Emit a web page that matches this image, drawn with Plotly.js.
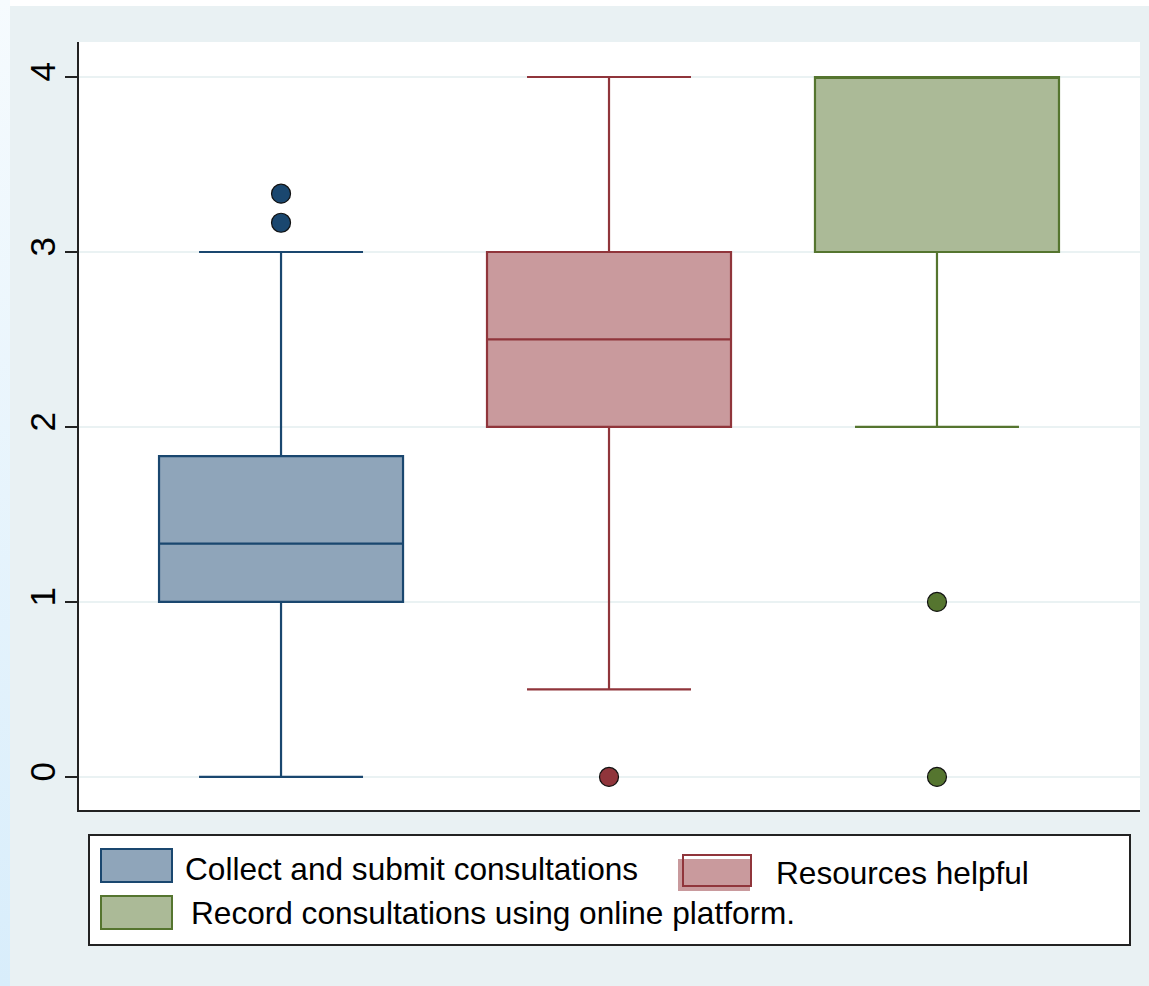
<!DOCTYPE html>
<html>
<head>
<meta charset="utf-8">
<script src="https://cdn.plot.ly/plotly-3.0.1.min.js"></script>
<style>
  html, body { margin: 0; padding: 0; width: 1149px; height: 986px; overflow: hidden; background: #ffffff; }
  #strip { position: absolute; left: 0; top: 0; width: 10px; height: 986px;
           background: linear-gradient(to bottom, #f6fbfe, #d8edfb); }
  #chart { position: absolute; left: 10px; top: 6px; width: 1139px; height: 980px; }
</style>
</head>
<body>
<div id="strip"></div>
<div id="chart"></div>
<script>
// ---- data ----
const seriesNames = ["Collect and submit consultations", "Resources helpful", "Record consultations using online platform."];
const positions   = [0, 1, 2];
const lowerFence  = [0, 0.5, 2];
const q1Values    = [1, 2, 3];
const medians     = [1.333, 2.5, 4];
const q3Values    = [1.833, 3, 4];
const upperFence  = [3, 4, 4];
const outlierX    = [[0, 0], [1], [2, 2]];
const outlierY    = [[3.333, 3.167], [0], [1, 0]];
const yTickVals   = [0, 1, 2, 3, 4];
const yTickText   = ["0", "1", "2", "3", "4"];

const fillColors  = ["#8FA5BA", "#C99A9D", "#ABBA97"];
const lineColors  = ["#1A476F", "#90353B", "#55752F"];

const traces = [];
for (let i = 0; i < seriesNames.length; i++) {
  traces.push({
    type: "box",
    name: seriesNames[i],
    x: [positions[i]],
    q1: [q1Values[i]],
    median: [medians[i]],
    q3: [q3Values[i]],
    lowerfence: [lowerFence[i]],
    upperfence: [upperFence[i]],
    width: 0.744,
    whiskerwidth: 0.672,
    boxpoints: false,
    fillcolor: fillColors[i],
    line: { color: lineColors[i], width: 2.2 },
    showlegend: false,
    hoverinfo: "skip"
  });
  traces.push({
    type: "scatter",
    mode: "markers",
    x: outlierX[i],
    y: outlierY[i],
    marker: { size: 19, color: lineColors[i], line: { color: "#111111", width: 1.2 } },
    showlegend: false,
    hoverinfo: "skip"
  });
}

// ---- manual legend (page pixel -> paper coords) ----
const L = 79, R = 1140, T = 42, B = 810;
const px = v => (v - L) / (R - L);
const py = v => (B - v) / (B - T);
function rect(x0, y0, x1, y1, fill, line, lw) {
  return { type: "rect", xref: "paper", yref: "paper",
           x0: px(x0), x1: px(x1), y0: py(y0), y1: py(y1),
           fillcolor: fill, line: { color: line, width: lw }, layer: "above" };
}
const shapes = [
  rect(89, 835, 1130, 945, "#ffffff", "#222222", 2),
  rect(101, 849, 172, 882, fillColors[0], lineColors[0], 2),
  rect(678, 859, 750, 891, fillColors[1], "rgba(0,0,0,0)", 0),
  rect(683, 855, 751, 886, "rgba(0,0,0,0)", lineColors[1], 2),
  rect(101, 896, 172, 929, fillColors[2], lineColors[2], 2)
];
const legendFont = { family: "Liberation Sans, Arial, sans-serif", size: 31.6, color: "#000000" };
function label(text, x, y) {
  return { text: text, xref: "paper", yref: "paper", x: px(x), y: py(y),
           xanchor: "left", yanchor: "middle", showarrow: false, font: legendFont };
}
const annotations = [
  label(seriesNames[0], 183, 869),
  label(seriesNames[1], 774, 873),
  label(seriesNames[2], 189, 913)
];

const layout = {
  width: 1139,
  height: 980,
  margin: { l: 69, r: 9, t: 36, b: 176, pad: 0 },
  paper_bgcolor: "#E9F1F3",
  plot_bgcolor: "#FFFFFF",
  showlegend: false,
  boxmode: "overlay",
  xaxis: {
    range: [-0.616, 2.619],
    showticklabels: false, ticks: "", showgrid: false, zeroline: false,
    showline: true, linecolor: "#222222", linewidth: 2, mirror: false
  },
  yaxis: {
    range: [-0.189, 4.2],
    tickvals: yTickVals, ticktext: yTickText,
    ticks: "outside", ticklen: 12, tickwidth: 2, tickcolor: "#222222",
    tickangle: -90,
    ticklabelstandoff: -4,
    tickfont: { family: "Liberation Sans, Arial, sans-serif", size: 35, color: "#000000" },
    showline: true, linecolor: "#222222", linewidth: 2, mirror: false,
    showgrid: true, gridcolor: "#EAF2F3", gridwidth: 2, zeroline: false
  },
  shapes: shapes,
  annotations: annotations
};

Plotly.newPlot("chart", traces, layout, { displayModeBar: false, staticPlot: true });
</script>
</body>
</html>
